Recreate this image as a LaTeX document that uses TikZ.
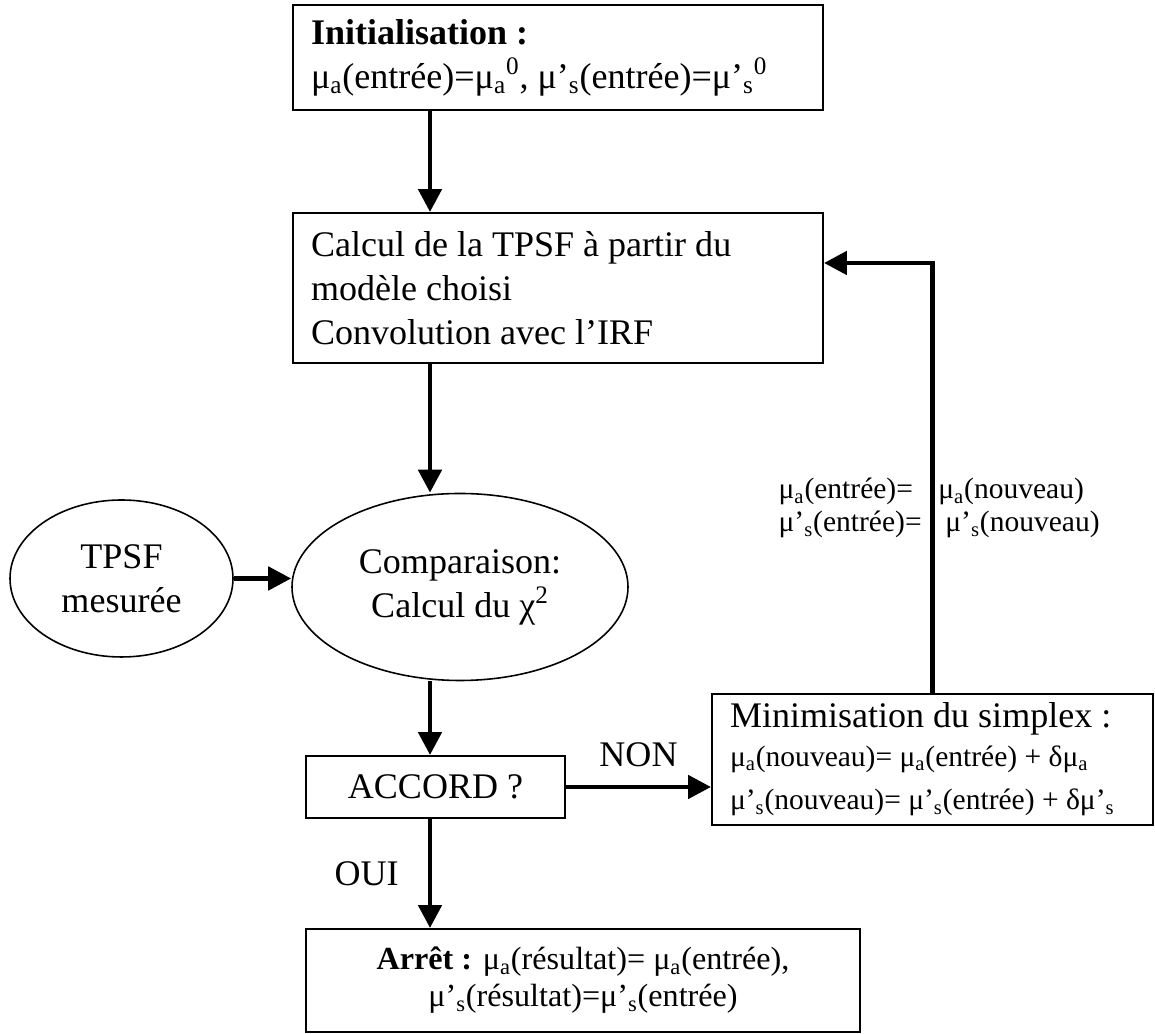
\documentclass[tikz,border=0pt]{standalone}
\usepackage{fontspec}
\setmainfont{Liberation Serif}
\usetikzlibrary{arrows.meta,shapes.geometric}

\newcommand{\bigtxt}{\fontsize{20.5}{25}\selectfont}
\newcommand{\midtxt}{\fontsize{18.3}{21}\selectfont}
\newcommand{\smalltxt}{\fontsize{16.8}{18.8}\selectfont}

\begin{document}
\begin{tikzpicture}[
		>={Triangle[length=0.46cm,width=0.46cm]},
		box/.style={
			draw,
			rectangle,
			line width=1.1pt,
			inner xsep=0.36cm,
			inner ysep=0pt,
			align=flush left,
			font=\bigtxt
		},
		ell/.style={
			draw,
			ellipse,
			line width=0.9pt,
			inner sep=0pt,
			align=center,
			font=\bigtxt
		},
		trans/.style={->, line width=2.8pt},
		lab/.style={
			inner sep=0pt,
			font=\bigtxt
		}
		]
		\useasboundingbox (0,0) rectangle (23.1,20.68);
		
		% Steps
		\node[box, minimum width=10.6cm, minimum height=2.1cm, text width=9.88cm] (init) at (11.16,19.53)
		{\textbf{Initialisation :}\\ μ\textsubscript{a}(entrée)=μ\textsubscript{a}\textsuperscript{0}, μ’\textsubscript{s}(entrée)=μ’\textsubscript{s}\textsuperscript{0}};
		\node[box, minimum width=10.6cm, minimum height=3.0cm, text width=9.88cm] (calc) at (11.16,14.92)
		{Calcul de la TPSF à partir du\\ modèle choisi\\ Convolution avec l’IRF};
		\node[ell, minimum width=6.72cm, minimum height=3.74cm] (comp) at (9.2,8.94) {Comparaison:\\ Calcul du χ\textsuperscript{2}};
		\node[ell, minimum width=4.46cm, minimum height=3.14cm] (tpsf) at (2.43,9.11) {TPSF\\ mesurée};
		\node[box, align=center, minimum width=5.18cm, minimum height=1.24cm] (accord) at (8.71,4.94) {ACCORD ?};
		\node[box, minimum width=8.82cm, minimum height=2.62cm, text width=8.1cm] (mini) at (18.65,5.49)
		{Minimisation du simplex :\\[3pt] \smalltxt μ\textsubscript{a}(nouveau)= μ\textsubscript{a}(entrée) + δμ\textsubscript{a}\\ μ’\textsubscript{s}(nouveau)= μ’\textsubscript{s}(entrée) + δμ’\textsubscript{s}};
		\node[box, align=center, font=\midtxt, minimum width=11.08cm, minimum height=2.06cm] (arret) at (11.66,1.07)
		{\textbf{Arrêt :} μ\textsubscript{a}(résultat)= μ\textsubscript{a}(entrée),\\ μ’\textsubscript{s}(résultat)=μ’\textsubscript{s}(entrée)};
		
		% Main flow
		\coordinate (spine) at (8.6,0);
		\draw[trans] (init.south -| spine) -- (calc.north -| spine);
		\draw[trans] (calc.south -| spine) -- (comp.north -| spine);
		\draw[trans] (tpsf.east) -- (tpsf.east -| comp.west);
		\draw[trans] (comp.south -| spine) -- (accord.north -| spine);
		
		% Test
		\draw[trans] (accord.east) -- node[lab, above=0.36cm] {NON} (accord.east -| mini.west);
		\draw[trans] (accord.south -| spine) -- node[lab, left=0.58cm] {OUI} (arret.north -| spine);
		
		% Back to the model
		\draw[trans] (mini.north) |- ([yshift=0.5cm]calc.east);
		\node[lab, font=\smalltxt, align=left, anchor=east] (oldpar) at (18.44,10.52)
		{μ\textsubscript{a}(entrée)=\\ μ’\textsubscript{s}(entrée)=};
		\node[lab, font=\smalltxt, align=left, anchor=west] (newpar) at (18.76,10.52)
		{μ\textsubscript{a}(nouveau)\\ \hspace*{0.14cm}μ’\textsubscript{s}(nouveau)};
		
	\end{tikzpicture}
\end{document}
